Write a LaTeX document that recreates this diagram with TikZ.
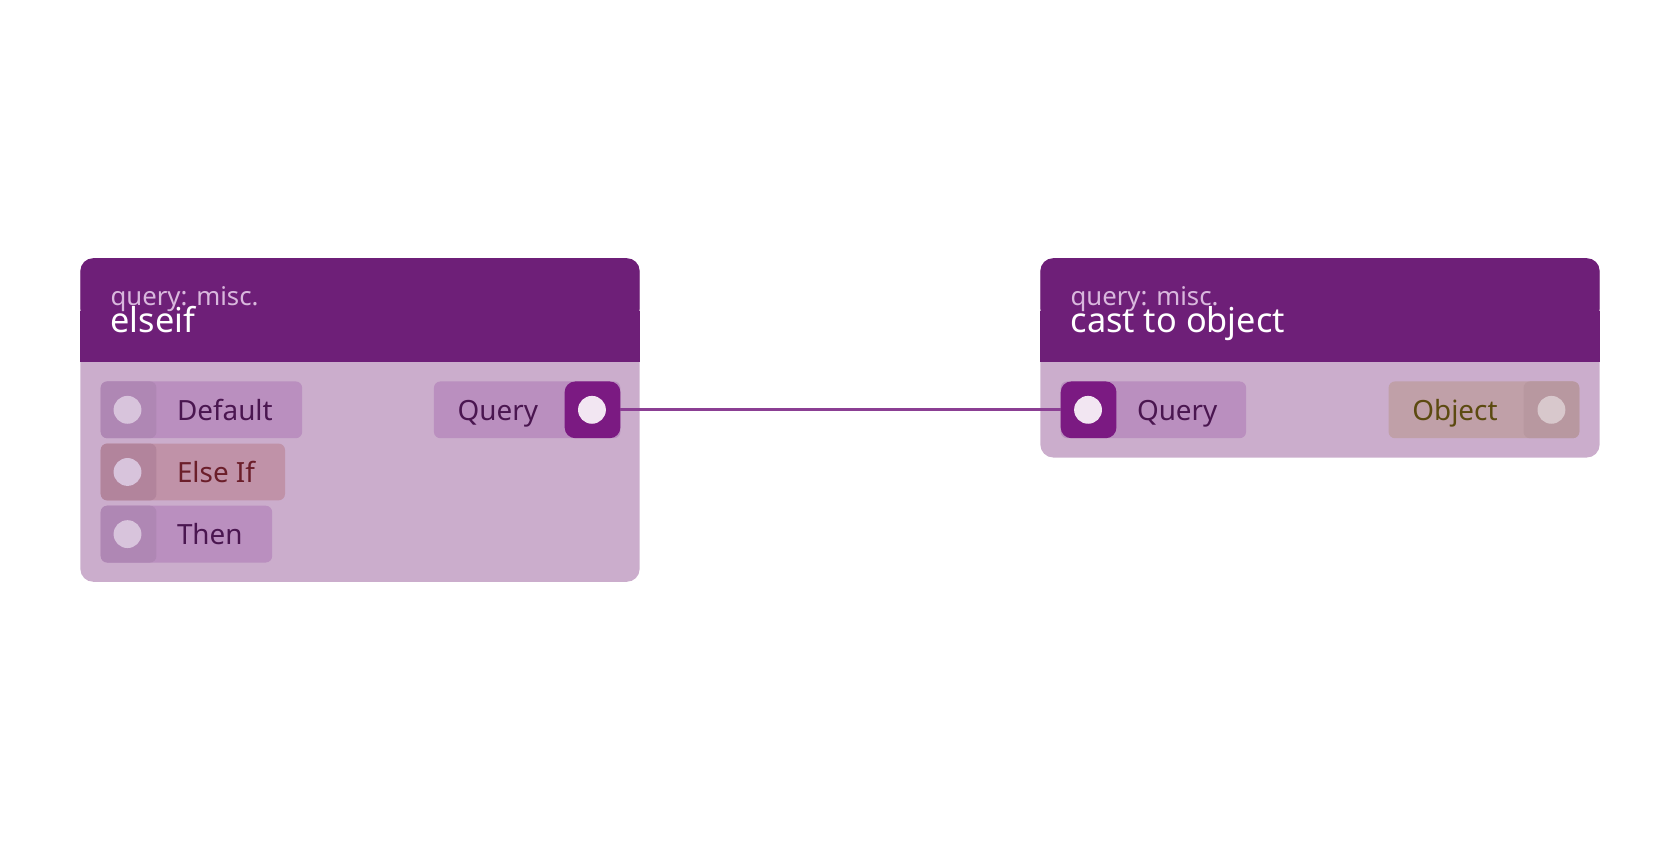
\documentclass[tikz,border=0pt]{standalone}
\usepackage{fontspec}
\setmainfont{Noto Sans}
\begin{document}
\begin{tikzpicture}[x=1pt,y=-1pt,
  pill/.style={fill=pl,rounded corners=6},
  sock/.style={fill=sk,rounded corners=6},
  dot/.style={circle,fill=dt,minimum size=26,inner sep=0},
  lbl/.style={anchor=base west,inner sep=0,font=\fontsize{26}{26}\selectfont,text=tx},
  sub/.style={anchor=base west,inner sep=0,font=\fontsize{24}{24}\selectfont,text=sb},
  ttl/.style={anchor=base west,inner sep=0,font=\fontsize{32}{32}\selectfont,text=white}]
\definecolor{hd}{HTML}{6E1F78}
\definecolor{bd}{HTML}{CBADCC}
\definecolor{pl}{HTML}{BA8FBF}
\definecolor{sk}{HTML}{AF87B4}
\definecolor{dt}{HTML}{D8C4DC}
\definecolor{tx}{HTML}{4A1650}
\definecolor{sb}{HTML}{D9B8DD}
\definecolor{act}{HTML}{7B1A82}
\definecolor{edge}{HTML}{8B3F93}
\useasboundingbox (0,0) rectangle (1568,784);
% left node
\fill[bd,rounded corners=12] (75,241) rectangle (597,543);
\fill[hd,rounded corners=12] (75,241) rectangle (597,300);
\fill[hd] (75,290) rectangle (597,338);
\node[sub] (l1) at (103,285) {query: misc.};
\node[ttl] (l2) at (103,310) {elseif};
\fill[pill] (94,356) rectangle (282,409);
\fill[sock] (94,356) rectangle (146,409);
\node[dot] (d1) at (119,382.5) {};
\node[lbl] (t1) at (165,392) {Default};
\fill[pill,fill={rgb,255:red,192;green,146;blue,168}] (94,414) rectangle (266,467);
\fill[sock,fill={rgb,255:red,178;green,132;blue,156}] (94,414) rectangle (146,467);
\node[dot] (d2) at (119,440.5) {};
\node[lbl,text={rgb,255:red,107;green,30;blue,42}] (t2) at (165,450) {Else If};
\fill[pill] (94,472) rectangle (254,525);
\fill[sock] (94,472) rectangle (146,525);
\node[dot] (d3) at (119,498.5) {};
\node[lbl] (t3) at (165,508) {Then};
\fill[pill] (405,356) rectangle (579,409);
\fill[act,rounded corners=10] (527,356) rectangle (579,409);
\node[dot,fill={rgb,255:red,242;green,230;blue,242}] (qo) at (552.5,382.5) {};
\node[lbl] (t4) at (427,392) {Query};
% right node
\fill[bd,rounded corners=12] (971,241) rectangle (1493,427);
\fill[hd,rounded corners=12] (971,241) rectangle (1493,300);
\fill[hd] (971,290) rectangle (1493,338);
\node[sub] (r1) at (999,285) {query: misc.};
\node[ttl] (r2) at (999,310) {cast to object};
\fill[pill] (990,356) rectangle (1163,409);
\fill[act,rounded corners=10] (990,356) rectangle (1042,409);
\node[dot,fill={rgb,255:red,242;green,230;blue,242}] (qi) at (1015.5,382.5) {};
\node[lbl] (t5) at (1061,392) {Query};
\fill[pill,fill={rgb,255:red,192;green,160;blue,168}] (1296,356) rectangle (1474,409);
\fill[sock,fill={rgb,255:red,184;green,152;blue,160}] (1422,356) rectangle (1474,409);
\node[dot,fill={rgb,255:red,216;green,200;blue,204}] (ob) at (1448,382.5) {};
\node[lbl,text={rgb,255:red,92;green,74;blue,16}] (t6) at (1318,392) {Object};
% edge
\coordinate (ea) at (579,382.5);
\coordinate (eb) at (990,382.5);
\draw[edge,line width=3] (ea) -- (eb);
\end{tikzpicture}
\end{document}
